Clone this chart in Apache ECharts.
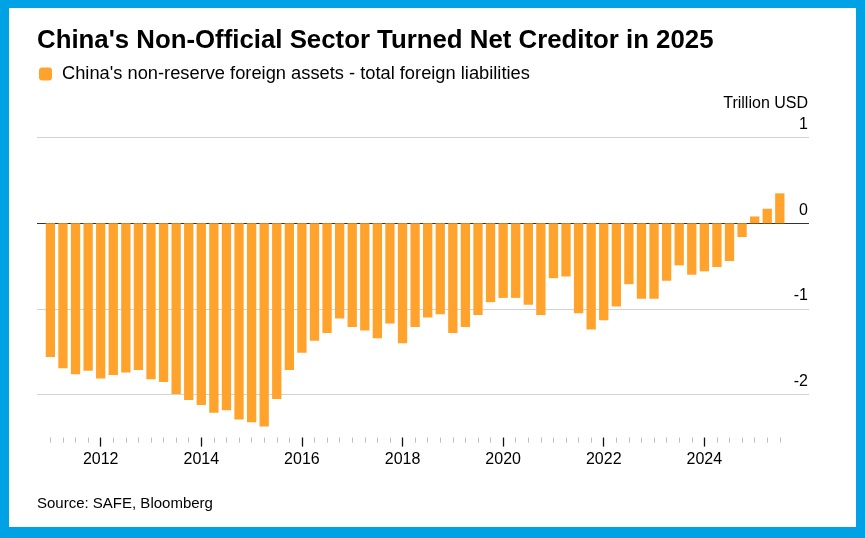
<!DOCTYPE html>
<html>
<head>
<meta charset="utf-8">
<script src="https://cdn.jsdelivr.net/npm/echarts@6/dist/echarts.min.js"></script>
<style>
html,body{margin:0;padding:0;background:#fff;}
#c{width:865px;height:538px;}
</style>
</head>
<body>
<div id="c"></div>
<script>
var quarters = [
  "2011Q1","2011Q2","2011Q3","2011Q4",
  "2012Q1","2012Q2","2012Q3","2012Q4",
  "2013Q1","2013Q2","2013Q3","2013Q4",
  "2014Q1","2014Q2","2014Q3","2014Q4",
  "2015Q1","2015Q2","2015Q3","2015Q4",
  "2016Q1","2016Q2","2016Q3","2016Q4",
  "2017Q1","2017Q2","2017Q3","2017Q4",
  "2018Q1","2018Q2","2018Q3","2018Q4",
  "2019Q1","2019Q2","2019Q3","2019Q4",
  "2020Q1","2020Q2","2020Q3","2020Q4",
  "2021Q1","2021Q2","2021Q3","2021Q4",
  "2022Q1","2022Q2","2022Q3","2022Q4",
  "2023Q1","2023Q2","2023Q3","2023Q4",
  "2024Q1","2024Q2","2024Q3","2024Q4",
  "2025Q1","2025Q2","2025Q3"
];
var netPosition = [
  -1.56,-1.69,-1.76,-1.72,
  -1.81,-1.77,-1.74,-1.71,
  -1.82,-1.85,-1.99,-2.06,
  -2.12,-2.21,-2.18,-2.29,
  -2.32,-2.37,-2.05,-1.71,
  -1.51,-1.37,-1.28,-1.11,
  -1.21,-1.25,-1.34,-1.17,
  -1.40,-1.21,-1.10,-1.06,
  -1.28,-1.21,-1.07,-0.92,
  -0.87,-0.87,-0.95,-1.07,
  -0.64,-0.62,-1.05,-1.24,
  -1.13,-0.97,-0.71,-0.88,
  -0.88,-0.67,-0.49,-0.60,
  -0.56,-0.51,-0.44,-0.16,
  0.08,0.17,0.35
];
var yTicks = [-2.5,-2,-1.5,-1,-0.5,0,0.5,1];
var yLabelValues = [-2,-1,0,1];
var seriesName = "China's non-reserve foreign assets - total foreign liabilities";
var titleText = "China's Non-Official Sector Turned Net Creditor in 2025";
var unitText = "Trillion USD";
var sourceText = "Source: SAFE, Bloomberg";

var FONT = "Liberation Sans";
var chart = echarts.init(document.getElementById('c'), null, {renderer:'canvas'});

var splitColors = yTicks.map(function(v){
  if (v === 0) return '#333333';
  return yLabelValues.indexOf(v) >= 0 ? '#d2d2d2' : 'rgba(0,0,0,0)';
});

var option = {
  backgroundColor: '#ffffff',
  animation: false,
  title: {
    text: titleText,
    left: 32, top: 23,
    textStyle: {fontFamily: FONT, fontSize: 25.8, fontWeight: 'bold', color: '#000'}
  },
  legend: {
    left: 34, top: 60,
    itemWidth: 13, itemHeight: 13,
    icon: 'roundRect',
    itemGap: 10,
    textStyle: {fontFamily: FONT, fontSize: 18.3, color: '#000', padding: [0,0,0,5]},
    data: [seriesName]
  },
  grid: [
    {left: 37, right: 56, top: 137.6, bottom: 100.4, containLabel: false},
    {left: 44.1, right: 78.9, top: 137.6, bottom: 100.4, containLabel: false}
  ],
  xAxis: [
    {gridIndex: 0, type: 'value', min: 0, max: 1, show: false},
    {gridIndex: 1, type: 'category', data: quarters, position: 'bottom',
      axisLine: {show: false, onZero: false},
      axisTick: {show: true, alignWithLabel: true, interval: 0, length: 5, lineStyle: {color: '#bdbdbd', width: 1}},
      axisLabel: {show: false},
      splitLine: {show: false}
    },
    {gridIndex: 1, type: 'category', data: quarters, position: 'bottom',
      axisLine: {show: false, onZero: false},
      axisTick: {show: true, alignWithLabel: true, length: 9, lineStyle: {color: '#111', width: 1.3},
        interval: function(i){ return (i - 4) % 8 === 0; }},
      axisLabel: {show: true, margin: 14, fontFamily: FONT, fontSize: 16, color: '#000',
        interval: function(i){ return (i - 4) % 8 === 0; },
        formatter: function(v){ return v.slice(0,4); }},
      splitLine: {show: false}
    }
  ],
  yAxis: [
    {gridIndex: 0, type: 'value', min: -2.5, max: 1, interval: 0.5, position: 'right',
      axisLine: {show: false}, axisTick: {show: false},
      axisLabel: {show: true, inside: true, margin: 1, fontFamily: FONT, fontSize: 16, color: '#000',
        verticalAlign: 'bottom', lineHeight: 16, padding: [0,0,5,0],
        formatter: function(v){ return yLabelValues.indexOf(v) >= 0 ? String(v) : ''; }},
      splitLine: {show: true, lineStyle: {color: splitColors, width: 1}}
    },
    {gridIndex: 1, type: 'value', min: -2.5, max: 1, show: false, splitLine: {show: false}}
  ],
  series: [
    {name: seriesName, type: 'bar', xAxisIndex: 1, yAxisIndex: 1,
      data: netPosition, barWidth: '74%',
      itemStyle: {color: '#ffa32c'}
    }
  ],
  graphic: [
    {type: 'text', right: 57, top: 96, style: {text: unitText, fontFamily: FONT, fontSize: 16, fill: '#000'}},
    {type: 'text', left: 37, top: 496, style: {text: sourceText, fontFamily: FONT, fontSize: 15, fill: '#000'}},
    {type: 'rect', left: 0, top: 0, shape: {width: 865, height: 8}, style: {fill: '#00a2e6'}, z: 100},
    {type: 'rect', left: 0, top: 0, shape: {width: 9, height: 538}, style: {fill: '#00a2e6'}, z: 100},
    {type: 'rect', left: 856, top: 0, shape: {width: 9, height: 538}, style: {fill: '#00a2e6'}, z: 100},
    {type: 'rect', left: 0, top: 527, shape: {width: 865, height: 11}, style: {fill: '#00a2e6'}, z: 100}
  ]
};
chart.setOption(option);
</script>
</body>
</html>
